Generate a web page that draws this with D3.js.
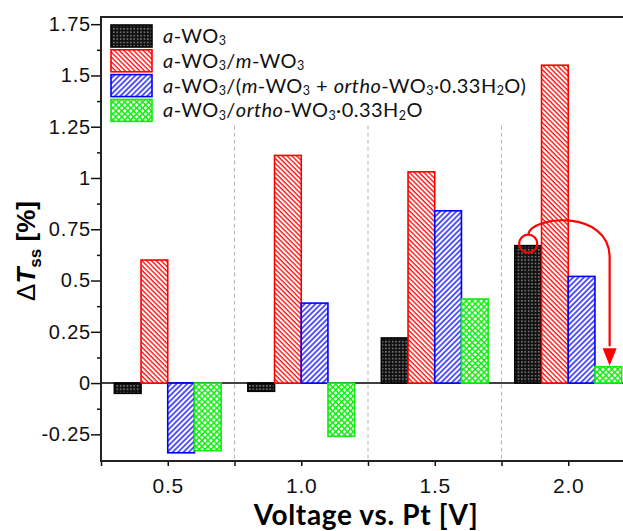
<!DOCTYPE html>
<html>
<head>
<meta charset="utf-8">
<script src="https://cdn.jsdelivr.net/npm/d3@7"></script>
<style>
  body { margin: 0; background: #fff; }
  svg { display: block; }
  .tick text { font-family: "Liberation Sans", Arial, sans-serif; fill: #111; }
</style>
</head>
<body>
<svg id="chart" width="623" height="531"></svg>
<script>
'use strict';

// values
const voltages = [0.5, 1.0, 1.5, 2.0];
const aWO3 = [-0.05, -0.04, 0.22, 0.67];
const aWO3_mWO3 = [0.60, 1.11, 1.03, 1.55];
const aWO3_mix = [-0.34, 0.39, 0.84, 0.52];
const aWO3_ortho = [-0.33, -0.26, 0.41, 0.08];

const yTicks = [-0.25, 0, 0.25, 0.5, 0.75, 1, 1.25, 1.5, 1.75];
const yTickLabels = ['-0.25', '0', '0.25', '0.5', '0.75', '1', '1.25', '1.5', '1.75'];
const yMinor = [-0.125, 0.125, 0.375, 0.625, 0.875, 1.125, 1.375, 1.625];
const xTicks = [0.5, 1.0, 1.5, 2.0];
const xTickLabels = ['0.5', '1.0', '1.5', '2.0'];
const xMinor = [0.25, 0.75, 1.25, 1.75];
const gridLines = [0.75, 1.25, 1.75];

// legend text pieces: i = italic, s = subscript
const legendNames = [
    [{t: 'a', i: 1}, {t: '-WO'}, {t: '3', s: 1}],
    [{t: 'a', i: 1}, {t: '-WO'}, {t: '3', s: 1}, {t: '/'}, {t: 'm', i: 1}, {t: '-WO'}, {t: '3', s: 1}],
    [{t: 'a', i: 1}, {t: '-WO'}, {t: '3', s: 1}, {t: '/('}, {t: 'm', i: 1}, {t: '-WO'}, {t: '3', s: 1},
     {t: ' + '}, {t: 'ortho', i: 1}, {t: '-WO'}, {t: '3', s: 1}, {t: '\u00b70.33H'}, {t: '2', s: 1}, {t: 'O)'}],
    [{t: 'a', i: 1}, {t: '-WO'}, {t: '3', s: 1}, {t: '/'}, {t: 'ortho', i: 1}, {t: '-WO'}, {t: '3', s: 1},
     {t: '\u00b70.33H'}, {t: '2', s: 1}, {t: 'O'}]
];

const series = [aWO3, aWO3_mWO3, aWO3_mix, aWO3_ortho];
const colors = ['#000000', '#ff0000', '#0000ff', '#11ee11'];
const patterns = ['patBlack', 'patRed', 'patBlue', 'patGreen'];

const svg = d3.select('#chart');
const plotLeft = 101, plotTop = 17, plotBottom = 461, plotRight = 635;

const x = d3.scaleLinear().domain([0.25, 2.25]).range([plotLeft, plotRight]);
const y = d3.scaleLinear().domain([-0.38, 1.785]).range([plotBottom, plotTop]);

// hatch patterns
const defs = svg.append('defs');
let p = defs.append('pattern').attr('id', 'patBlack').attr('patternUnits', 'userSpaceOnUse')
    .attr('width', 3.4).attr('height', 3.4);
p.append('rect').attr('width', 3.4).attr('height', 3.4).attr('fill', '#111');
p.append('rect').attr('x', 1).attr('y', 1).attr('width', 1.3).attr('height', 1.3).attr('fill', '#aaa');

p = defs.append('pattern').attr('id', 'patRed').attr('patternUnits', 'userSpaceOnUse')
    .attr('width', 3.4).attr('height', 10).attr('patternTransform', 'rotate(-45)');
p.append('rect').attr('width', 3.4).attr('height', 10).attr('fill', '#fff');
p.append('line').attr('x1', 1).attr('x2', 1).attr('y1', 0).attr('y2', 10)
    .attr('stroke', '#ff0000').attr('stroke-width', 1.3);

p = defs.append('pattern').attr('id', 'patBlue').attr('patternUnits', 'userSpaceOnUse')
    .attr('width', 3.8).attr('height', 10).attr('patternTransform', 'rotate(45)');
p.append('rect').attr('width', 3.8).attr('height', 10).attr('fill', '#fff');
p.append('line').attr('x1', 1).attr('x2', 1).attr('y1', 0).attr('y2', 10)
    .attr('stroke', '#0000ff').attr('stroke-width', 1.3);

p = defs.append('pattern').attr('id', 'patGreen').attr('patternUnits', 'userSpaceOnUse')
    .attr('width', 4.2).attr('height', 4.2).attr('patternTransform', 'rotate(45)');
p.append('rect').attr('width', 4.2).attr('height', 4.2).attr('fill', '#fff');
p.append('path').attr('d', 'M0,0.7H4.2M0.7,0V4.2')
    .attr('stroke', '#11ee11').attr('stroke-width', 1.6);

// dashed separators
svg.append('g').selectAll('line')
    .data(gridLines)
    .enter().append('line')
    .attr('x1', d => x(d)).attr('x2', d => x(d))
    .attr('y1', y(1.255)).attr('y2', plotBottom)
    .attr('stroke', '#b5b5b5').attr('stroke-width', 1).attr('stroke-dasharray', '4,3');

// zero line
svg.append('line')
    .attr('x1', plotLeft).attr('x2', plotRight)
    .attr('y1', y(0)).attr('y2', y(0))
    .attr('stroke', '#000').attr('stroke-width', 1.5);

// bars
series.forEach(function (vals, k) {
    svg.append('g').selectAll('rect')
        .data(vals)
        .enter().append('rect')
        .attr('x', (d, i) => x(voltages[i] + (k - 2) * 0.1))
        .attr('width', x(0.35) - x(0.25))
        .attr('y', d => y(Math.max(0, d)))
        .attr('height', d => Math.abs(y(d) - y(0)))
        .attr('fill', 'url(#' + patterns[k] + ')')
        .attr('stroke', colors[k])
        .attr('stroke-width', 1.6);
});

// axes
const yAxis = svg.append('g').attr('transform', 'translate(' + plotLeft + ',0)')
    .call(d3.axisLeft(y).tickValues(yTicks).tickSize(10).tickPadding(0)
        .tickFormat((d, i) => yTickLabels[i]));
yAxis.selectAll('text').style('font-size', '20px').style('letter-spacing', '0.8px');
svg.append('g').attr('transform', 'translate(' + plotLeft + ',0)')
    .call(d3.axisLeft(y).tickValues(yMinor).tickSize(4).tickFormat(''));

const xAxis = svg.append('g').attr('transform', 'translate(0,' + plotBottom + ')')
    .call(d3.axisBottom(x).tickValues(xTicks).tickSize(5).tickPadding(12)
        .tickFormat((d, i) => xTickLabels[i]));
xAxis.selectAll('text').style('font-size', '21px').style('letter-spacing', '0.8px');
svg.append('g').attr('transform', 'translate(0,' + plotBottom + ')')
    .call(d3.axisBottom(x).tickValues(xMinor).tickSize(5).tickFormat(''));

svg.selectAll('.domain').remove();
svg.selectAll('.tick line').attr('stroke', '#111').attr('stroke-width', 1.5);

// frame
svg.append('rect')
    .attr('x', plotLeft).attr('y', plotTop)
    .attr('width', plotRight - plotLeft).attr('height', plotBottom - plotTop)
    .attr('fill', 'none').attr('stroke', '#222').attr('stroke-width', 2);

// axis titles
svg.append('text')
    .attr('x', 366).attr('y', 525)
    .attr('text-anchor', 'middle')
    .style('font-family', 'Lato, sans-serif').style('font-weight', 700).style('font-size', '28px')
    .style('letter-spacing', '0.65px')
    .text('Voltage vs. Pt [V]');

const yt = svg.append('text')
    .attr('transform', 'translate(35,251) rotate(-90)')
    .attr('text-anchor', 'middle')
    .style('font-family', '"Liberation Sans", Arial, sans-serif').style('font-size', '26px');
yt.append('tspan').text('\u0394');
yt.append('tspan').style('font-weight', 700).style('font-style', 'italic').text('T');
yt.append('tspan').style('font-weight', 700).style('font-size', '17px').attr('dy', 6).text('ss');
yt.append('tspan').style('font-weight', 700).attr('dy', -6).text(' [%]');

// legend
const legend = svg.append('g');
legendNames.forEach(function (parts, k) {
    const rowY = 25 + k * 24.8;
    legend.append('rect')
        .attr('x', 111).attr('y', rowY)
        .attr('width', 41).attr('height', 22)
        .attr('fill', 'url(#' + patterns[k] + ')')
        .attr('stroke', colors[k]).attr('stroke-width', 1.6);
    const t = legend.append('text')
        .attr('x', 163).attr('y', rowY + 18)
        .style('font-family', 'Lato, sans-serif').style('font-size', '20px')
        .style('letter-spacing', '0.45px').style('fill', '#111');
    let shifted = false;
    parts.forEach(function (part) {
        const ts = t.append('tspan').text(part.t);
        if (part.i) ts.style('font-style', 'italic');
        if (part.s) {
            ts.style('font-size', '12.5px').attr('dy', 2.2);
            shifted = true;
        } else if (shifted) {
            ts.attr('dy', -2.2);
            shifted = false;
        }
    });
});

// red arrow from a-WO3 to ortho at 2.0 V
const blackTop = aWO3[3], greenTop = aWO3_ortho[3];
const ann = svg.append('g').attr('stroke', '#ff0000').attr('fill', 'none').attr('stroke-width', 2.2);
ann.append('circle')
    .attr('cx', x(1.85)).attr('cy', y(blackTop) - 2)
    .attr('r', 9);
const path = d3.path();
path.moveTo(x(1.85), y(blackTop) - 11);
path.bezierCurveTo(x(1.861), y(0.82), x(2.155), y(0.845), x(2.155), y(0.615));
path.lineTo(x(2.155), y(greenTop + 0.1));
ann.append('path').attr('d', path.toString());
ann.append('path')
    .attr('d', 'M' + (x(2.155) - 7) + ',' + y(greenTop + 0.09) +
        'L' + (x(2.155) + 7) + ',' + y(greenTop + 0.09) +
        'L' + x(2.155) + ',' + (y(greenTop) - 1) + 'Z')
    .attr('fill', '#ff0000').attr('stroke', 'none');
</script>
</body>
</html>
